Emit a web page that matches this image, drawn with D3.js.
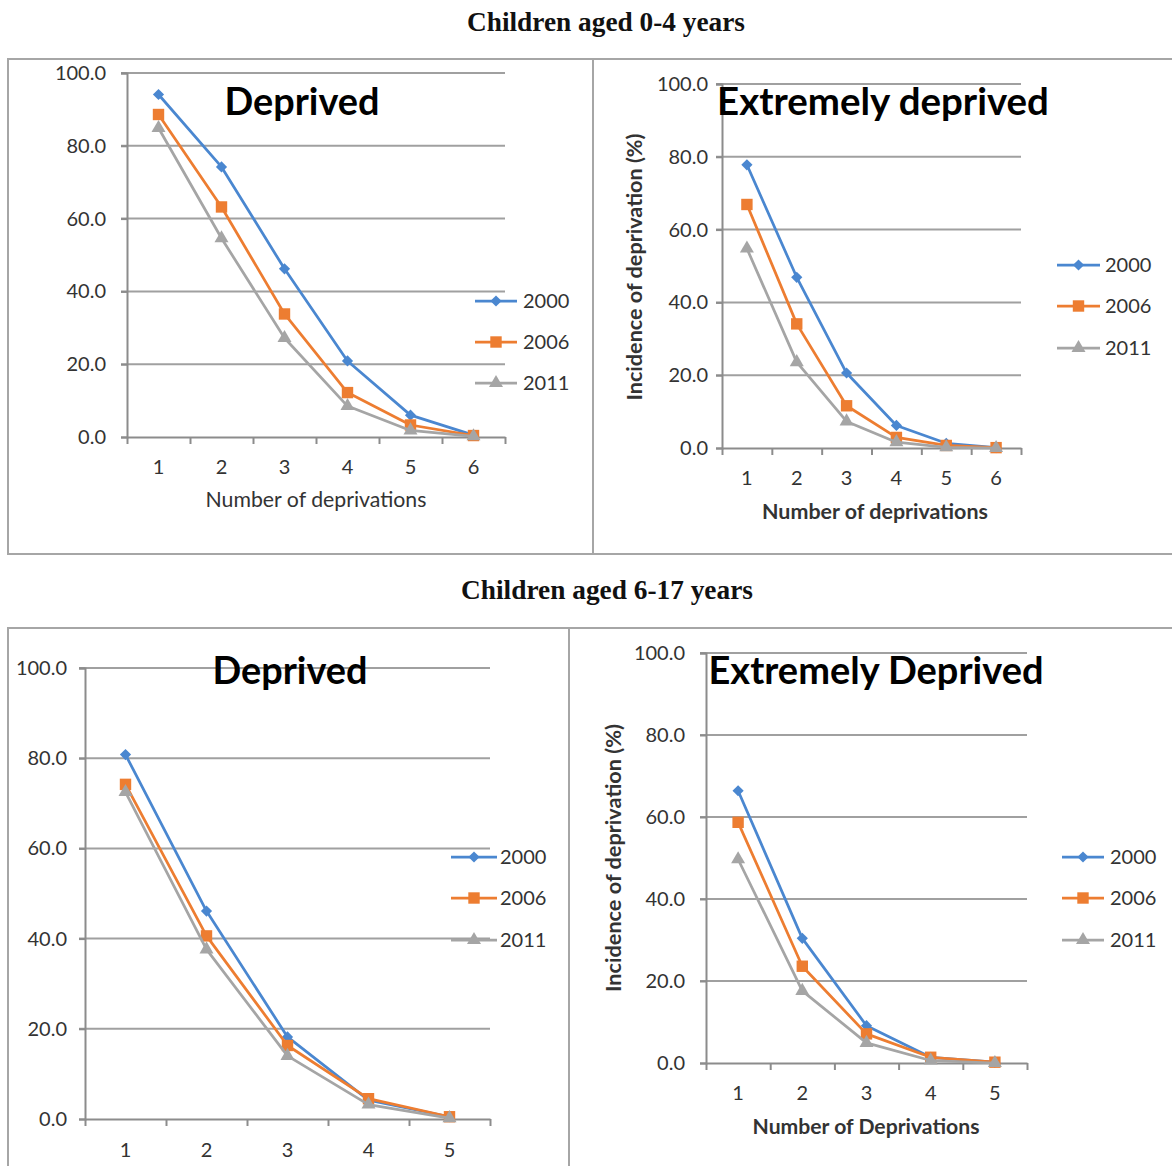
<!DOCTYPE html>
<html>
<head>
<meta charset="utf-8">
<script src="https://cdn.jsdelivr.net/npm/d3@7"></script>
<style>
html,body{margin:0;padding:0;background:#fff;}
svg{display:block;}
</style>
</head>
<body>
<svg id="chart" width="1172" height="1166"></svg>
<script>
// ---------- DATA ----------
const years = ["2000", "2006", "2011"];
const yTicks = [0, 20, 40, 60, 80, 100];

const depr04Cats = [1, 2, 3, 4, 5, 6];
const depr04_2000 = [94.1, 74.2, 46.2, 20.9, 6.0, 0.5];
const depr04_2006 = [88.6, 63.2, 33.8, 12.2, 3.3, 0.4];
const depr04_2011 = [84.9, 54.6, 27.2, 8.5, 1.8, 0.2];

const ext04Cats = [1, 2, 3, 4, 5, 6];
const ext04_2000 = [77.8, 46.9, 20.6, 6.2, 1.3, 0.1];
const ext04_2006 = [66.9, 34.1, 11.6, 2.9, 0.7, 0.1];
const ext04_2011 = [54.8, 23.6, 7.3, 1.6, 0.2, 0.0];

const depr617Cats = [1, 2, 3, 4, 5];
const depr617_2000 = [80.8, 46.1, 18.2, 4.2, 0.5];
const depr617_2006 = [74.2, 40.6, 16.3, 4.5, 0.5];
const depr617_2011 = [72.5, 37.6, 14.0, 3.2, 0.2];

const ext617Cats = [1, 2, 3, 4, 5];
const ext617_2000 = [66.4, 30.4, 9.1, 1.4, 0.2];
const ext617_2006 = [58.7, 23.6, 7.1, 1.4, 0.2];
const ext617_2011 = [49.7, 17.6, 4.9, 0.6, 0.0];

const headings = ["Children aged 0-4 years", "Children aged 6-17 years"];
const panelTitles = ["Deprived", "Extremely deprived", "Deprived", "Extremely Deprived"];
const xLabels = ["Number of deprivations", "Number of deprivations", "", "Number of Deprivations"];
const yLabel = "Incidence of deprivation (%)";

// ---------- STYLE ----------
const colors = {"2000": "#4A87D0", "2006": "#ED7D31", "2011": "#A5A5A5"};
const markers = {"2000": "diamond", "2006": "square", "2011": "triangle"};
const FONT = "Lato, 'Open Sans', sans-serif";
const TICKCOL = "#333333";
const GRIDCOL = "#a0a0a0";

const svg = d3.select("#chart");

function fitText(sel, w) {
  const node = sel.node();
  const fs = parseFloat(sel.attr("font-size"));
  const cur = node.getComputedTextLength();
  if (cur > 0) sel.attr("font-size", (fs * w / cur).toFixed(2));
  return sel;
}

function markerPath(type) {
  if (type === "diamond") return d3.symbol().type(d3.symbolDiamond2 || d3.symbolDiamond).size(80)();
  if (type === "square") return d3.symbol().type(d3.symbolSquare).size(130)();
  return d3.symbol().type(d3.symbolTriangle).size(85)();
}

// ---------- FRAMES ----------
const frame = svg.append("g").attr("fill", "none").attr("stroke", "#a6a6a6").attr("stroke-width", 2);
frame.append("path").attr("d", (() => { const p = d3.path(); p.moveTo(1180, 59); p.lineTo(8, 59); p.lineTo(8, 554); p.lineTo(1180, 554); return p.toString(); })());
frame.append("line").attr("x1", 593).attr("x2", 593).attr("y1", 59).attr("y2", 554);
frame.append("path").attr("d", (() => { const p = d3.path(); p.moveTo(1180, 628); p.lineTo(8, 628); p.lineTo(8, 1180); return p.toString(); })());
frame.append("line").attr("x1", 569).attr("x2", 569).attr("y1", 628).attr("y2", 1180);

// ---------- HEADINGS ----------
const h1 = svg.append("text").attr("x", 606).attr("y", 31).attr("text-anchor", "middle")
  .attr("font-family", "'Liberation Serif', 'Times New Roman', serif").attr("font-weight", "bold")
  .attr("font-size", 22).attr("fill", "#111").text(headings[0]);
fitText(h1, 278);
const h2 = svg.append("text").attr("x", 607).attr("y", 599).attr("text-anchor", "middle")
  .attr("font-family", "'Liberation Serif', 'Times New Roman', serif").attr("font-weight", "bold")
  .attr("font-size", 22).attr("fill", "#111").text(headings[1]);
fitText(h2, 292);

// ---------- PANELS ----------
const panels = [
  {cats: depr04Cats, series: [depr04_2000, depr04_2006, depr04_2011], x0: 127, x1: 505, yT: 73, yB: 437,
   title: panelTitles[0], tx: 302, ty: 115, tw: 155, xl: xLabels[0], xlx: 316, xly: 507, xlw: 221, xlBold: false,
   yl: false, tickLy: 474, leg: {lx0: 475, lx1: 517, tx: 523, ys: [301, 342, 383]}, ytPad: 15},
  {cats: ext04Cats, series: [ext04_2000, ext04_2006, ext04_2011], x0: 722, x1: 1021, yT: 84, yB: 448,
   title: panelTitles[1], tx: 883, ty: 115, tw: 332, xl: xLabels[1], xlx: 875, xly: 519, xlw: 226, xlBold: true,
   yl: true, ylx: 636, yly: 267, ylw: 267, tickLy: 485, leg: {lx0: 1057, lx1: 1100, tx: 1105, ys: [265, 306, 348]}, ytPad: 8},
  {cats: depr617Cats, series: [depr617_2000, depr617_2006, depr617_2011], x0: 85, x1: 490, yT: 668, yB: 1119,
   title: panelTitles[2], tx: 290, ty: 684, tw: 155, xl: xLabels[2],
   yl: false, tickLy: 1157, leg: {lx0: 451, lx1: 497, tx: 500, ys: [857, 898, 940]}, ytPad: 12},
  {cats: ext617Cats, series: [ext617_2000, ext617_2006, ext617_2011], x0: 706, x1: 1027, yT: 653, yB: 1063,
   title: panelTitles[3], tx: 876, ty: 684, tw: 335, xl: xLabels[3], xlx: 866, xly: 1134, xlw: 227, xlBold: true,
   yl: true, ylx: 615, yly: 858, ylw: 268, tickLy: 1100, leg: {lx0: 1062, lx1: 1104, tx: 1110, ys: [857, 898, 940]}, ytPad: 15}
];

panels.forEach(p => {
  const g = svg.append("g");
  const n = p.cats.length;
  const x = d3.scaleLinear().domain([0.5, n + 0.5]).range([p.x0, p.x1]);
  const y = d3.scaleLinear().domain([0, 100]).range([p.yB, p.yT]);

  // gridlines
  g.append("g").selectAll("line").data(yTicks.filter(d => d > 0)).join("line")
    .attr("x1", p.x0 - 6).attr("x2", p.x1).attr("y1", d => y(d)).attr("y2", d => y(d))
    .attr("stroke", GRIDCOL).attr("stroke-width", 2);

  // y axis
  const ya = g.append("g").attr("transform", `translate(${p.x0},0)`)
    .call(d3.axisLeft(y).tickValues(yTicks).tickFormat(d3.format(".1f")).tickSize(6).tickPadding(p.ytPad));
  ya.select(".domain").attr("stroke", "#8c8c8c").attr("stroke-width", 2);
  ya.selectAll(".tick line").attr("stroke", "#8c8c8c").attr("stroke-width", 2);
  ya.selectAll(".tick text").attr("font-family", FONT).attr("font-size", 20).attr("fill", TICKCOL);

  // x axis: boundary ticks
  const bounds = d3.range(n + 1).map(i => i + 0.5);
  const xa = g.append("g").attr("transform", `translate(0,${p.yB})`)
    .call(d3.axisBottom(x).tickValues(bounds).tickFormat("").tickSize(7).tickSizeOuter(0));
  xa.select(".domain").attr("stroke", "#8c8c8c").attr("stroke-width", 2);
  xa.selectAll(".tick line").attr("stroke", "#8c8c8c").attr("stroke-width", 2);
  // x category labels
  g.append("g").selectAll("text").data(p.cats).join("text")
    .attr("x", d => x(d)).attr("y", p.tickLy).attr("text-anchor", "middle")
    .attr("font-family", FONT).attr("font-size", 20).attr("fill", TICKCOL).text(d => d);

  // series
  p.series.forEach((vals, si) => {
    const yr = years[si];
    const pts = p.cats.map((c, i) => [c, vals[i]]);
    g.append("path").datum(pts)
      .attr("d", d3.line().x(d => x(d[0])).y(d => y(d[1])))
      .attr("fill", "none").attr("stroke", colors[yr]).attr("stroke-width", 2.75).attr("stroke-linejoin", "round");
    g.append("g").selectAll("path").data(pts).join("path")
      .attr("transform", d => `translate(${x(d[0])},${y(d[1])})`)
      .attr("d", markerPath(markers[yr])).attr("fill", colors[yr]);
  });

  // title
  const t = g.append("text").attr("x", p.tx).attr("y", p.ty).attr("text-anchor", "middle")
    .attr("font-family", FONT).attr("font-weight", "bold").attr("font-size", 34).attr("fill", "#000").text(p.title);
  fitText(t, p.tw);

  // x label
  if (p.xl) {
    const xl = g.append("text").attr("x", p.xlx).attr("y", p.xly).attr("text-anchor", "middle")
      .attr("font-family", FONT).attr("font-weight", p.xlBold ? "bold" : "normal")
      .attr("font-size", 18).attr("fill", TICKCOL).text(p.xl);
    fitText(xl, p.xlw);
  }
  // y label
  if (p.yl) {
    const yl = g.append("text").attr("transform", `translate(${p.ylx + 6},${p.yly}) rotate(-90)`)
      .attr("text-anchor", "middle").attr("font-family", FONT).attr("font-weight", "bold")
      .attr("font-size", 17).attr("fill", TICKCOL).text(yLabel);
    fitText(yl, p.ylw);
  }

  // legend
  years.forEach((yr, i) => {
    const ly = p.leg.ys[i];
    g.append("line").attr("x1", p.leg.lx0).attr("x2", p.leg.lx1).attr("y1", ly).attr("y2", ly)
      .attr("stroke", colors[yr]).attr("stroke-width", 2.75);
    g.append("path").attr("transform", `translate(${(p.leg.lx0 + p.leg.lx1) / 2},${ly})`)
      .attr("d", markerPath(markers[yr])).attr("fill", colors[yr]);
    g.append("text").attr("x", p.leg.tx).attr("y", ly + 7).attr("font-family", FONT)
      .attr("font-size", 20).attr("fill", TICKCOL).text(yr);
  });
});
</script>
</body>
</html>
